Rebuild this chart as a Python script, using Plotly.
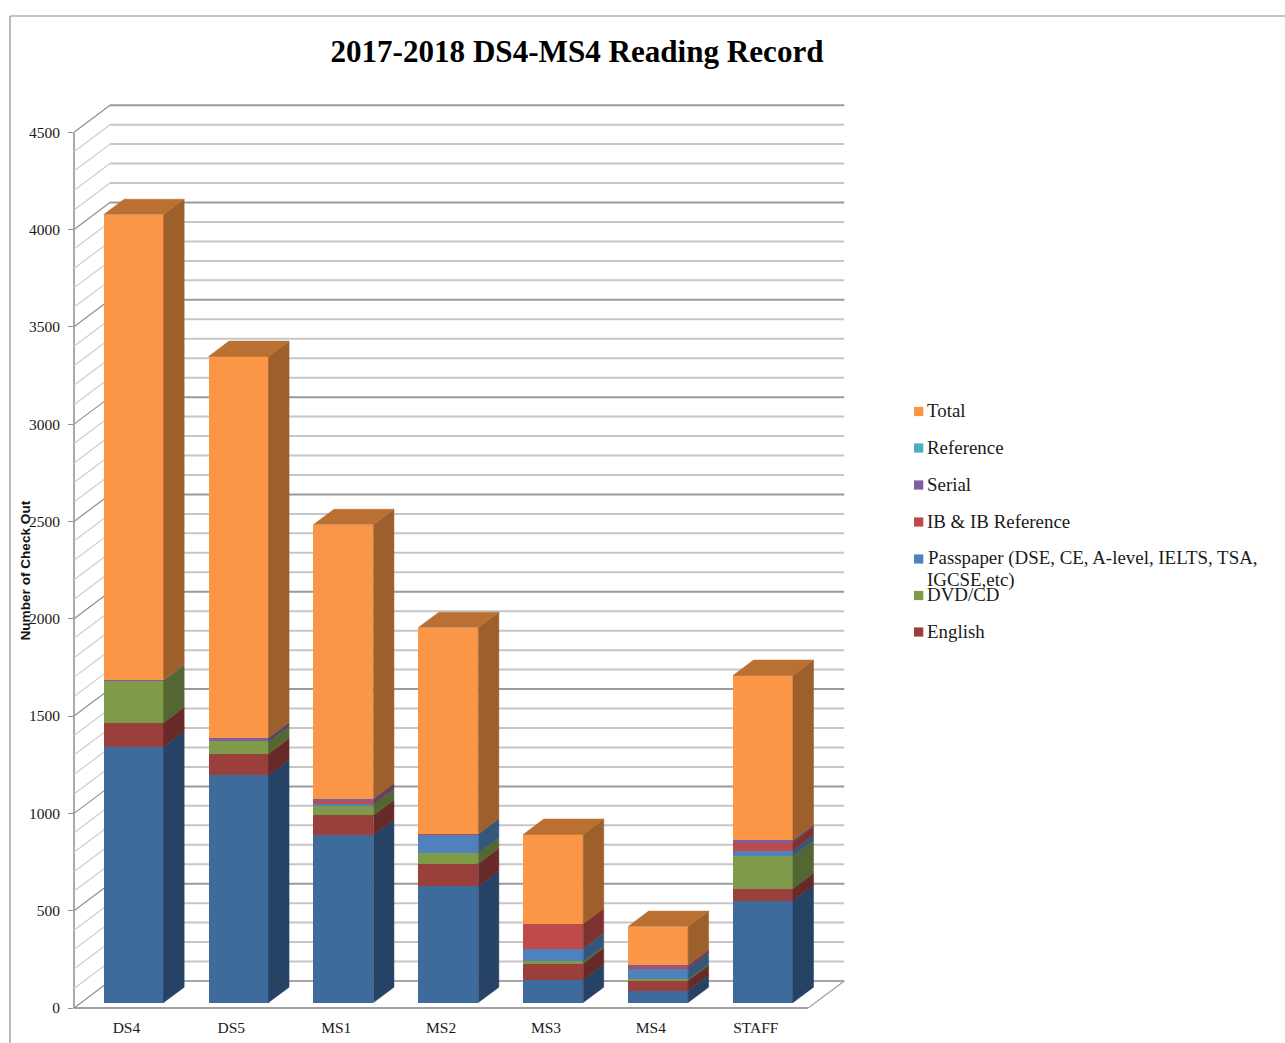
import plotly.graph_objects as go
import numpy as np

# ---- data -------------------------------------------------------------
categories = ["DS4", "DS5", "MS1", "MS2", "MS3", "MS4", "STAFF"]
unlabelled_base = [1315, 1169, 861, 597, 118, 62, 524]
english = [123, 110, 101, 117, 84, 51, 62]
dvd_cd = [216, 63, 53, 56, 10, 7, 168]
passpaper = [0, 0, 8, 94, 65, 55, 27]
ib_reference = [0, 0, 13, 3, 128, 8, 43]
serial = [4, 18, 12, 0, 0, 9, 9]
reference = [0, 0, 0, 0, 0, 0, 0]
total = [2391, 1960, 1408, 1060, 459, 199, 848]
major_ticks = [0, 500, 1000, 1500, 2000, 2500, 3000, 3500, 4000, 4500]
minor_ticks = [100, 200, 300, 400, 600, 700, 800, 900, 1100, 1200, 1300, 1400, 1600, 1700,
               1800, 1900, 2100, 2200, 2300, 2400, 2600, 2700, 2800, 2900, 3100, 3200, 3300,
               3400, 3600, 3700, 3800, 3900, 4100, 4200, 4300, 4400]

# series: name, values, front colour, side colour
series = [
    ("Unlabelled", unlabelled_base, "#3F6A9C", "#264264"),
    ("English", english, "#9B3F3D", "#672A28"),
    ("DVD/CD", dvd_cd, "#7F9A48", "#546631"),
    ("Passpaper (DSE, CE, A-level, IELTS, TSA,<br>IGCSE,etc)", passpaper, "#4F81BD", "#34567D"),
    ("IB & IB Reference", ib_reference, "#BE4B48", "#7E3230"),
    ("Serial", serial, "#7D5FA0", "#53406B"),
    ("Reference", reference, "#4BACC6", "#327285"),
    ("Total", total, "#FA9646", "#9D5F2B"),
]
TOP_FACE = "#BA7032"

# ---- geometry ---------------------------------------------------------
W, H = 1285, 1043
L, R, T, B = 74, 439, 103, 35
Y_MAX, X_MAX = 4650, 7.36
PW, PH = W - L - R, H - T - B
DX, DY = 0.3433, 138.7          # depth of the floor in axis units
D0, D1 = 0.20, 0.77             # bar front / back position in depth
BAR_W = 0.572
SERIF = "Liberation Serif"
GRID = "#C6C6C6"
MAJOR = "#9A9A9A"


def px(x):
    return (x - L) / PW


def py(y):
    return (H - B - y) / PH


xc = np.arange(len(categories)) + 0.5
xf = xc + D0 * DX
yoff = D0 * DY

fig = go.Figure()
base = np.zeros(len(categories))
for name, vals, front, side in series:
    v = np.array(vals, float)
    fig.add_trace(go.Bar(x=xf, y=v, base=base + yoff, width=BAR_W, name=name.replace("<br>", " "),
                         marker=dict(color=front, line=dict(width=0)), showlegend=False,
                         hoverinfo="skip"))
    # side faces
    sx, sy = [], []
    for xi, b, h in zip(xf, base, v):
        if h <= 0:
            continue
        xr = xi + BAR_W / 2
        dd = (D1 - D0)
        sx += [xr, xr + dd * DX, xr + dd * DX, xr, xr, None]
        sy += [b + yoff, b + yoff + dd * DY, b + h + yoff + dd * DY, b + h + yoff, b + yoff, None]
    if sx:
        fig.add_trace(go.Scatter(x=sx, y=sy, mode="lines", fill="toself", fillcolor=side,
                                 line=dict(width=0.5, color=side), showlegend=False,
                                 hoverinfo="skip"))
    base = base + v

# top faces
tx, ty = [], []
dd = D1 - D0
for xi, t in zip(xf, base):
    x0, x1 = xi - BAR_W / 2, xi + BAR_W / 2
    tt = t + yoff
    tx += [x0, x1, x1 + dd * DX, x0 + dd * DX, x0, None]
    ty += [tt, tt, tt + dd * DY, tt + dd * DY, tt, None]
fig.add_trace(go.Scatter(x=tx, y=ty, mode="lines", fill="toself", fillcolor=TOP_FACE,
                         line=dict(width=0.5, color=TOP_FACE), showlegend=False, hoverinfo="skip"))

# ---- walls ------------------------------------------------------------
shapes = []


def seg(x0, y0, x1, y1, color, width, xref="x", yref="y"):
    shapes.append(dict(type="line", xref=xref, yref=yref, x0=x0, y0=y0, x1=x1, y1=y1,
                       layer="below", line=dict(color=color, width=width)))


back_x = DX
right_x = 7 + DX
for v in minor_ticks:
    seg(0, v, back_x, v + DY, "#CDCDCD", 1.2)
    seg(back_x, v + DY, right_x, v + DY, GRID, 2)
for v in major_ticks:
    seg(0, v, back_x, v + DY, "#8E8E8E", 1.2)
    seg(back_x, v + DY, right_x, v + DY, MAJOR if v else "#A6A6A6", 2)
seg(0, 0, 0, 4500, "#8E8E8E", 1.5, xref="paper")
seg(0, 0, 7, 0, "#A0A0A0", 2, yref="paper")
seg(7, 0, right_x, DY, "#A0A0A0", 1.2)

# outer frame of the picture
seg(px(10), py(16), px(10), py(H), "#8C8C8C", 1.2, xref="paper", yref="paper")
seg(px(10), py(16), px(W), py(16), "#8C8C8C", 1.2, xref="paper", yref="paper")

# ---- legend (wraps and overlaps as in the original) -------------------
annotations = []
LEGEND_LINE = 21.5
legend_rows = [411.5, 448, 485, 522, 559, 595.5, 632]
legend_entries = [series[7], series[6], series[5], series[4], series[3], series[2], series[1]]
for yy, (name, _, color, _) in zip(legend_rows, legend_entries):
    shapes.append(dict(type="rect", xref="paper", yref="paper", x0=px(914), x1=px(923.3),
                       y0=py(yy + 4.6), y1=py(yy - 4.6), fillcolor=color, line=dict(width=0)))
    for k, line in enumerate(name.split("<br>")):
        annotations.append(dict(text=line, xref="paper", yref="paper", x=px(925.5),
                                y=py(yy - 0.7 + k * LEGEND_LINE), xanchor="left", yanchor="middle",
                                align="left", showarrow=False,
                                font=dict(family=SERIF, size=18.9, color="#1A1A1A")))

annotations.append(dict(text="<b>Number of Check Out</b>", xref="paper", yref="paper", x=px(25),
                        y=py(570.5), xanchor="center", yanchor="middle", textangle=-90,
                        showarrow=False,
                        font=dict(family="Liberation Sans", size=13.6, color="#111111")))

fig.update_layout(
    width=W, height=H, autosize=False,
    margin=dict(l=L, r=R, t=T, b=B, pad=0),
    paper_bgcolor="white", plot_bgcolor="rgba(0,0,0,0)",
    barmode="overlay", bargap=0, showlegend=False,
    title=dict(text="<b>2017-2018 DS4-MS4 Reading Record</b>", x=577 / W, xanchor="center",
               y=1 - 51.5 / H, yanchor="middle", font=dict(family=SERIF, size=31.1, color="#000000")),
    xaxis=dict(range=[0, X_MAX], tickmode="array", tickvals=list(xc), ticktext=categories,
               automargin=False, showgrid=False, zeroline=False, showline=False, ticks="",
               ticklabelstandoff=8, tickfont=dict(family=SERIF, size=15.5, color="#1A1A1A")),
    yaxis=dict(range=[0, Y_MAX], tickmode="array", tickvals=major_ticks,
               ticktext=[str(v) for v in major_ticks], automargin=False, showgrid=False,
               zeroline=False, showline=False, ticks="outside", ticklen=5, tickcolor="#8E8E8E",
               tickwidth=1.2, ticklabelstandoff=5,
               tickfont=dict(family=SERIF, size=15.5, color="#1A1A1A")),
    shapes=shapes, annotations=annotations,
)

fig.write_html("out.html", config={"displayModeBar": False},
               post_script="document.body.style.margin='0';document.body.style.overflow='hidden';")
